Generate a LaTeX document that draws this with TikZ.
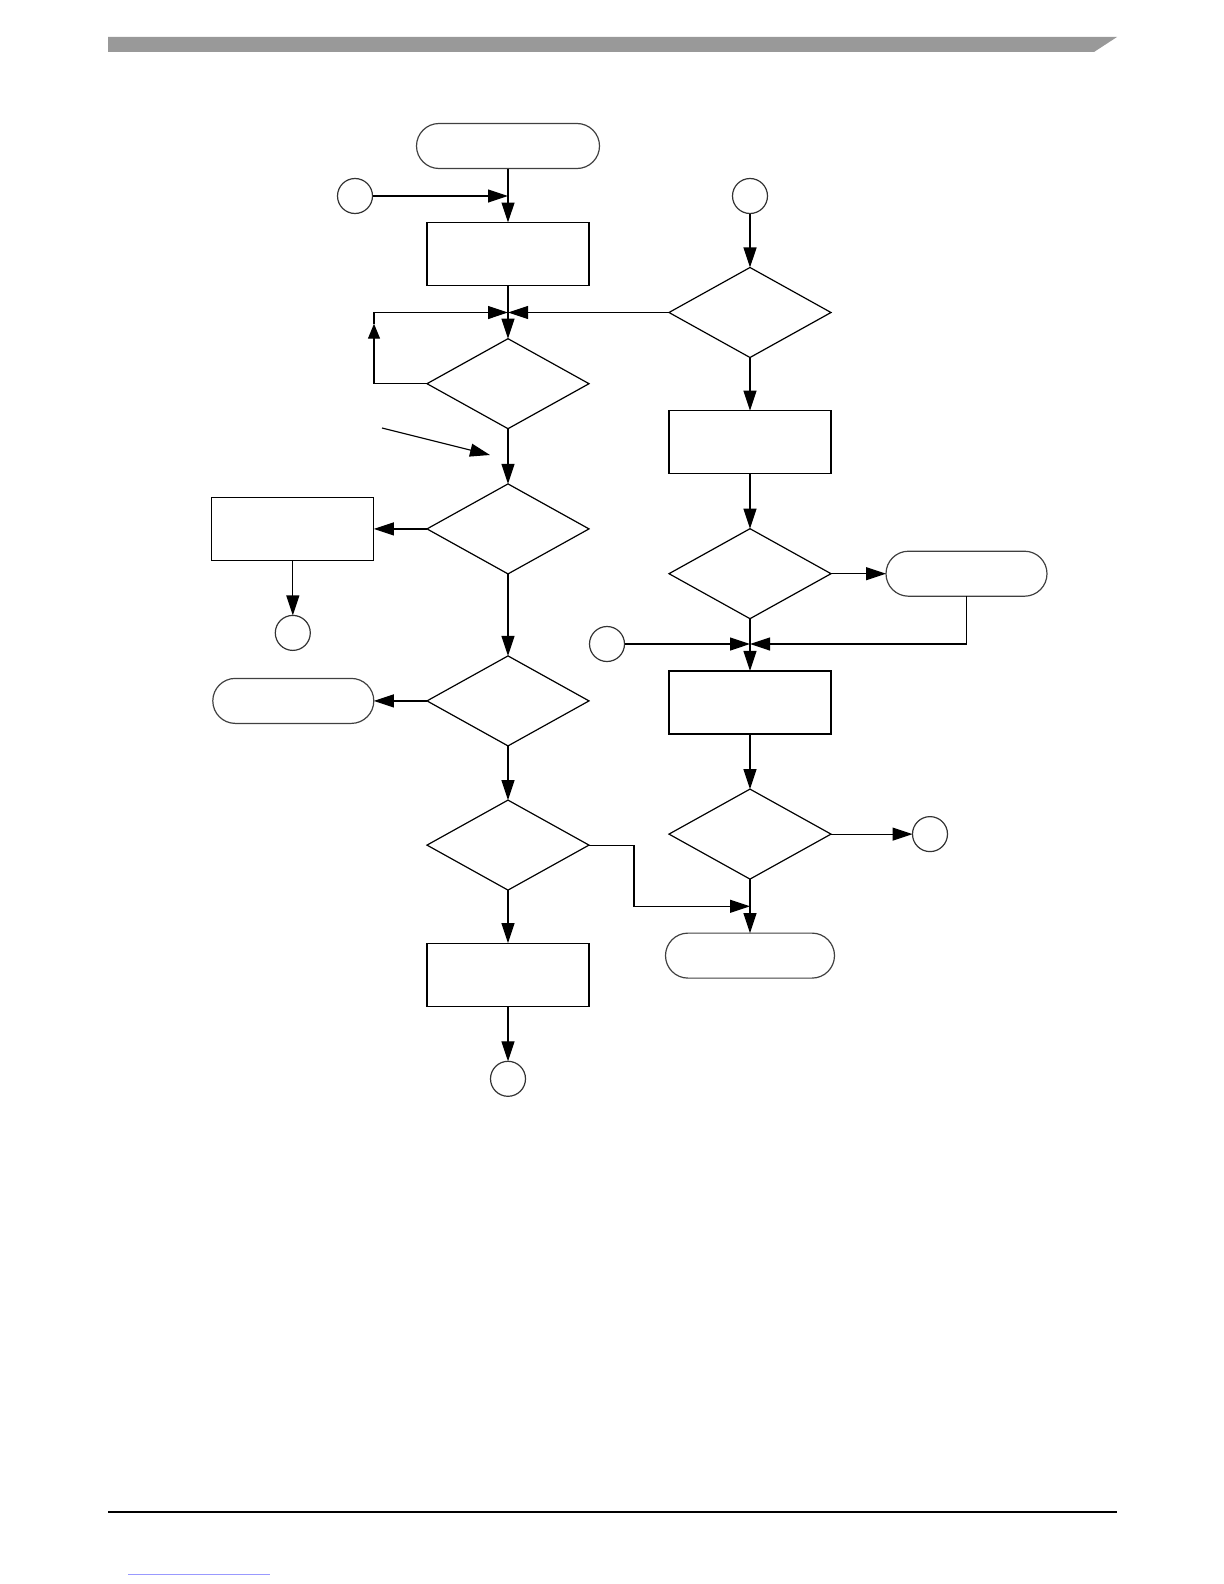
\documentclass[tikz,border=0pt]{standalone}
\usepackage{tikz}
\usetikzlibrary{shapes.geometric, arrows.meta, positioning}

\definecolor{bargray}{RGB}{153,153,153}

\begin{document}
\begin{tikzpicture}[
    x=0.5pt, y=-0.5pt,
    line width=0.6pt,
    every node/.style={outer sep=0pt},
    proc/.style={rectangle, draw=black, minimum width=81pt,
                minimum height=31.5pt, inner sep=0pt},
    decision/.style={diamond, draw=black, minimum width=81pt,
                minimum height=45pt, inner sep=0pt},
    term/.style={rectangle, rounded corners=11.25pt, draw=black!75,
                minimum width=80.5pt, minimum height=22.5pt, inner sep=0pt},
    conn/.style={circle, draw=black!80, minimum size=17.5pt, inner sep=0pt},
    arrow/.style={-{Triangle[length=10pt, width=6.5pt]}},
    smallarrow/.style={-{Triangle[length=7.5pt, width=6pt]}},
]
\useasboundingbox (0,0) rectangle (1224,1584);

% Page header and footer
\fill[bargray] (108,37) -- (1117,37) -- (1094,52) -- (108,52) -- cycle;
\draw[line width=1pt] (108,1512) -- (1117,1512);
\draw[blue!40, line width=0.5pt] (128,1574) -- (270,1574);

% Left column
\node[term, minimum width=91.5pt] (start) at (508,146) {};
\node[proc, below=27pt of start] (proc1) {};
\node[decision, below=26.6pt of proc1] (dec1) {};
\node[decision, below=27.6pt of dec1] (dec2) {};
\node[decision, below=41pt of dec2] (dec3) {};
\node[decision, below=27.1pt of dec3] (dec4) {};
\node[proc, below=26.5pt of dec4] (proc2) {};
\node[conn, below=27.6pt of proc2] (out1) {};

% Side branches on the left
\node[proc, left=26.6pt of dec2] (proc3) {};
\node[conn, below=27.5pt of proc3] (out2) {};
\node[term, left=26.6pt of dec3] (stop1) {};
\node[conn] (in1) at (355,196) {};

% Right column
\node[conn] (in2) at (750,196) {};
\node[decision, below=27pt of in2] (dec5) {};
\node[proc, below=26.6pt of dec5] (proc4) {};
\node[decision, below=27.5pt of proc4] (dec6) {};
\node[term, right=27.5pt of dec6] (stop2) {};
\node[proc, below=26.1pt of dec6] (proc5) {};
\node[decision, below=27.6pt of proc5] (dec7) {};
\node[conn, right=40.75pt of dec7] (out3) {};
\node[term, minimum width=84.5pt, below=27pt of dec7] (stop3) {};
\node[conn] (in3) at (607,644) {};

% Merge points
\coordinate (m1) at (proc1.south |- dec5.west);
\coordinate (m2) at (dec6.south |- in3.east);
\coordinate[below=13.6pt of dec7.south] (m3);

% Free pointer
\coordinate (pa) at (382,428);
\coordinate (pb) at (490,455);

% Arrows, left
\draw[arrow] (start) -- (proc1);
\draw[arrow] (in1) -- (in1 -| start);
\draw (proc1) -- (m1);
\draw[arrow] (m1) -- (dec1);
\draw[arrow] (dec5) -- (m1);
\draw[smallarrow] (dec1.west) -- ++(-53,0) -- ++(0,-60);
\draw[arrow] (dec1.west) ++(-53,-60) |- (m1);
\draw[arrow] (pa) -- (pb);
\draw[arrow] (dec1) -- (dec2);
\draw[arrow] (dec2) -- (proc3);
\draw[arrow] (proc3) -- (out2);
\draw[arrow] (dec2) -- (dec3);
\draw[arrow] (dec3) -- (stop1);
\draw[arrow] (dec3) -- (dec4);
\draw[arrow] (dec4) -- (proc2);
\draw[arrow] (proc2) -- (out1);
\draw[arrow] (dec4.east) -- ++(45,0) |- (m3);

% Arrows, right
\draw[arrow] (in2) -- (dec5);
\draw[arrow] (dec5) -- (proc4);
\draw[arrow] (proc4) -- (dec6);
\draw[arrow] (dec6) -- (stop2);
\draw (dec6) -- (m2);
\draw[arrow] (m2) -- (proc5);
\draw[arrow] (in3) -- (m2);
\draw[arrow] (stop2.south) |- (m2);
\draw[arrow] (proc5) -- (dec7);
\draw[arrow] (dec7) -- (out3);
\draw[arrow] (dec7) -- (stop3);

\end{tikzpicture}
\end{document}
